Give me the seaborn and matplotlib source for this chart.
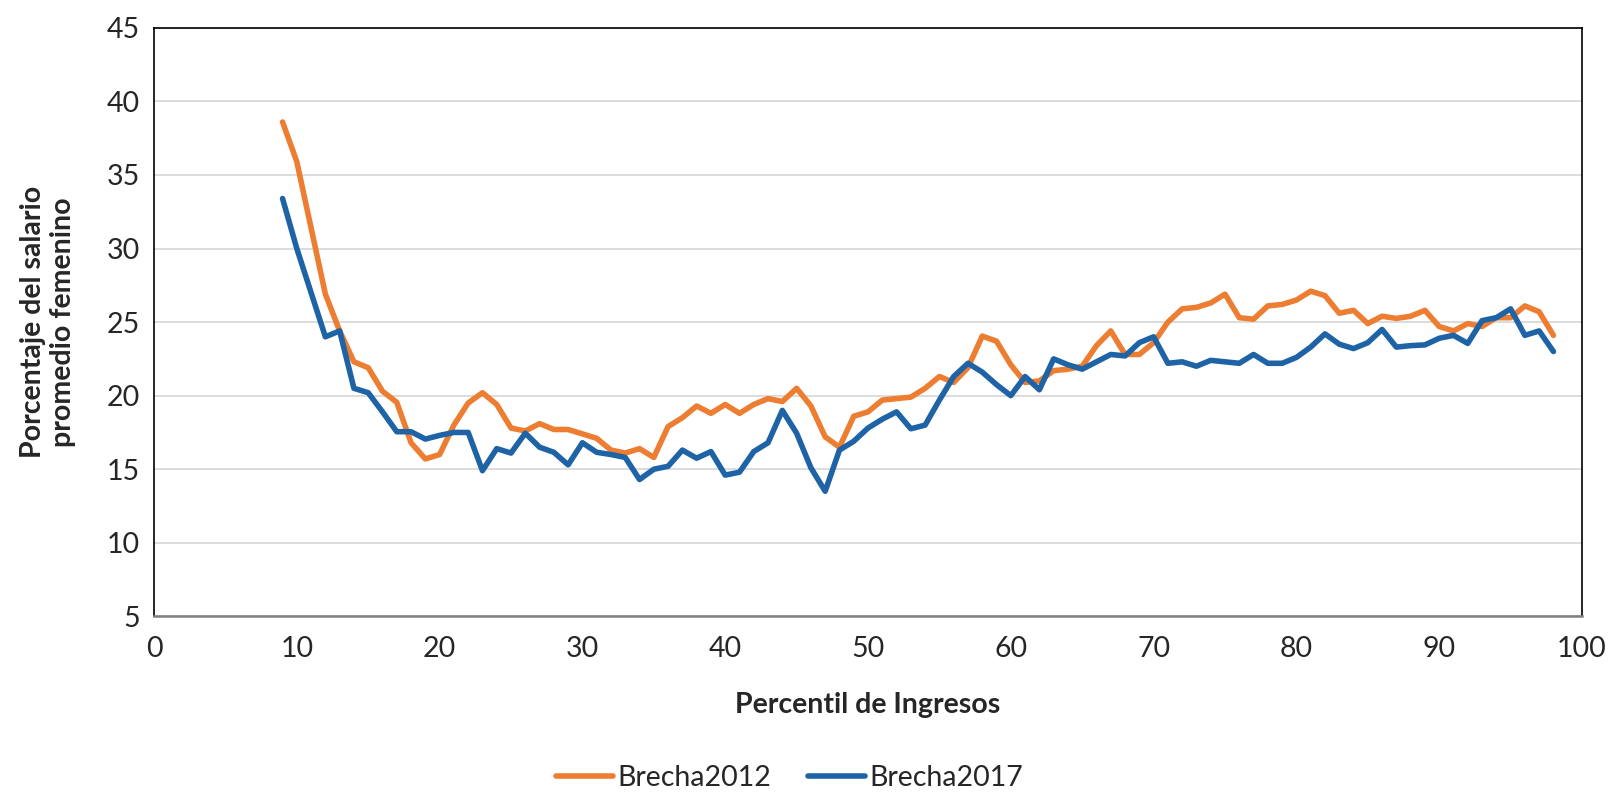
import matplotlib
matplotlib.use("Agg")
import matplotlib.pyplot as plt
import seaborn as sns
import pandas as pd
import numpy as np
from matplotlib.lines import Line2D

percentiles = list(range(9, 99))

brecha2012 = [38.6, 35.9, 31.4, 26.9, 24.4, 22.3, 21.9, 20.3, 19.55, 16.8,
               15.7, 16.0, 18.0, 19.5, 20.2, 19.4, 17.8, 17.6, 18.1, 17.7,
               17.7, 17.4, 17.1, 16.3, 16.1, 16.4, 15.8, 17.9, 18.5, 19.3,
               18.8, 19.4, 18.8, 19.4, 19.8, 19.6, 20.5, 19.3, 17.2, 16.5,
               18.6, 18.9, 19.7, 19.8, 19.9, 20.5, 21.3, 20.9, 21.9, 24.05,
               23.7, 22.1, 20.9, 21.0, 21.7, 21.8, 22.0, 23.4, 24.4, 22.8,
               22.8, 23.6, 25.0, 25.9, 26.0, 26.3, 26.9, 25.3, 25.2, 26.1,
               26.2, 26.5, 27.1, 26.8, 25.6, 25.8, 24.9, 25.4, 25.25, 25.4,
               25.8, 24.7, 24.4, 24.9, 24.7, 25.3, 25.3, 26.1, 25.7, 24.1]

brecha2017 = [33.4, 30.0, 27.0, 24.0, 24.4, 20.5, 20.2, 18.9, 17.55, 17.55,
               17.05, 17.3, 17.5, 17.5, 14.9, 16.4, 16.1, 17.45, 16.5, 16.15,
               15.3, 16.8, 16.15, 16.0, 15.8, 14.3, 15.0, 15.2, 16.3, 15.75,
               16.2, 14.6, 14.8, 16.2, 16.8, 19.0, 17.45, 15.1, 13.5, 16.3,
               16.9, 17.8, 18.4, 18.9, 17.75, 18.0, 19.7, 21.3, 22.2, 21.6,
               20.75, 20.0, 21.3, 20.4, 22.5, 22.1, 21.8, 22.3, 22.8, 22.7,
               23.6, 24.0, 22.2, 22.3, 22.0, 22.4, 22.3, 22.2, 22.8, 22.2,
               22.2, 22.6, 23.3, 24.2, 23.5, 23.2, 23.6, 24.5, 23.3, 23.4,
               23.45, 23.9, 24.1, 23.55, 25.1, 25.3, 25.9, 24.1, 24.4, 23.0]

series_names = ["Brecha2012", "Brecha2017"]
x_ticks = list(range(0, 101, 10))
y_ticks = list(range(5, 46, 5))

df = pd.DataFrame({
    "Percentil": percentiles * 2,
    "Valor": brecha2012 + brecha2017,
    "Serie": [series_names[0]] * len(brecha2012) + [series_names[1]] * len(brecha2017),
})

sns.set_style("white")
plt.rcParams["font.family"] = ["Lato", "DejaVu Sans"]

fig = plt.figure(figsize=(16.11, 7.95), dpi=100)
ax = fig.add_axes([0.0956, 0.2247, 0.982 - 0.0956, 0.965 - 0.2247])

palette = {"Brecha2012": "#ED7D31", "Brecha2017": "#1E63A6"}
lw = 4.0
sns.lineplot(data=df, x="Percentil", y="Valor", hue="Serie", palette=palette,
             linewidth=lw, ax=ax, legend=False)

fs = 20.5
ax.set_xlim(0, 100)
ax.set_ylim(5, 45)
ax.set_xticks(x_ticks)
ax.set_yticks(y_ticks)
ax.tick_params(axis="both", labelsize=fs, length=0)
ax.tick_params(axis="x", pad=14)
ax.tick_params(axis="y", pad=10)
ax.yaxis.grid(True, color="#D9D9D9", linewidth=1.3)
ax.xaxis.grid(False)
ax.set_axisbelow(True)
for side in ["left", "right", "top", "bottom"]:
    ax.spines[side].set_visible(True)
    ax.spines[side].set_color("black")
    ax.spines[side].set_linewidth(1.2)
ax.spines["bottom"].set_color("#808080")
ax.spines["bottom"].set_linewidth(1.8)

ax.set_xlabel("Percentil de Ingresos", fontsize=fs, fontweight="bold", labelpad=22)
ax.set_ylabel("Porcentaje del salario\npromedio femenino", fontsize=fs,
              fontweight="bold", labelpad=22)

handles = [Line2D([0], [0], color=palette[n], linewidth=lw) for n in series_names]
fig.legend(handles, series_names, loc="center", bbox_to_anchor=(0.49, 0.022),
           ncol=2, frameon=False, fontsize=fs, handlelength=2.0,
           handletextpad=0.15, columnspacing=1.3)

fig.savefig("out.png", dpi=100)
